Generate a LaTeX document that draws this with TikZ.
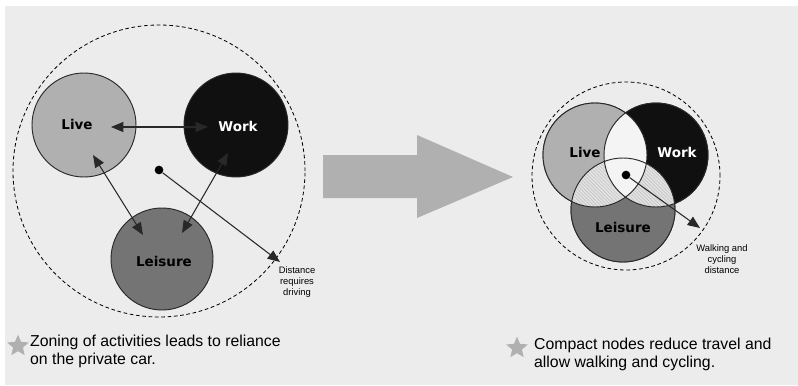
\documentclass[tikz,border=0pt]{standalone}
\usepackage{fontspec}
\setmainfont{Liberation Sans}
\newfontfamily\zonefont{DejaVu Sans}
\usetikzlibrary{arrows.meta,shapes.geometric,calc,patterns}

\definecolor{paper}{RGB}{236,236,236}
\definecolor{livegray}{RGB}{176,176,176}
\definecolor{leisgray}{RGB}{116,116,116}
\definecolor{workblack}{RGB}{16,16,16}
\definecolor{bigarrow}{RGB}{176,176,176}
\definecolor{ink}{RGB}{40,40,40}
\definecolor{hatch}{RGB}{226,226,226}

\begin{document}
\begin{tikzpicture}[x=0.3mm,y=-0.3mm,
  zone/.style={circle, draw=ink, line width=0.8pt, inner sep=0pt, minimum size=31.2mm},
  zonetext/.style={font=\zonefont\bfseries\fontsize{11.5}{12}\selectfont},
  reach/.style={circle, draw=black, line width=0.7pt, dash pattern=on 1.1mm off 0.8mm, inner sep=0pt},
  centre/.style={circle, fill=black, inner sep=0pt, minimum size=2.6mm},
  trip/.style={ink, line width=0.9pt, {Triangle[length=3.7mm,width=3mm]}-{Triangle[length=3.7mm,width=3mm]}},
  span/.style={ink, line width=0.9pt, -{Triangle[length=3.7mm,width=3mm]}},
  note/.style={align=center, font=\fontsize{8}{9.4}\selectfont},
  caption/.style={anchor=west, align=left, font=\fontsize{13.5}{15.4}\selectfont},
  bullet/.style={star, star points=5, star point ratio=2.2, fill=livegray, inner sep=0pt, minimum size=6.8mm}]
  \useasboundingbox (0,0) rectangle (798,385);
  \fill[white] (0,0) rectangle (798,385);
  \fill[paper] (5,6) rectangle (798,385);

  % zoning
  \node[reach, minimum size=87.6mm] (farzone) at (159,171) {};
  \node[zone, fill=livegray] (live) at (84,125) {};
  \node[zone, fill=workblack] (work) at (236,125) {};
  \node[zone, fill=leisgray, minimum size=30.6mm] (leis) at (162,259) {};
  \node[zonetext] (livetxt) at (77,124) {Live};
  \node[zonetext, text=white] (worktxt) at (238,126) {Work};
  \node[zonetext] (leistxt) at (164,261) {Leisure};
  \draw[trip] ($(live.center)+(27,2)$) -- ($(work.center)+(-28,2)$);
  \draw[trip] ($(live.center)+(9,30)$) -- ($(leis.center)+(-19,-24)$);
  \draw[trip] ($(work.center)+(-8,28)$) -- ($(leis.center)+(20,-26)$);
  \node[centre] (farmid) at (159,170) {};
  \coordinate (drive) at (280,262);
  \draw[span] (farmid) -- (drive);
  \node[note] (drivetxt) at (297,282) {Distance\\requires\\driving};

  \fill[bigarrow] (323,155) -- (417,155) -- (417,135) -- (513,177)
    -- (417,218) -- (417,198) -- (323,198) -- cycle;

  % compact
  \node[reach, minimum size=56.4mm] (nearzone) at (626,176) {};
  \node[zone] (clive) at (595,155) {};
  \node[zone] (cwork) at (656,155) {};
  \node[zone] (cleis) at (623,210) {};
  \fill[livegray] (clive.center) circle (15.6mm);
  \fill[workblack] (cwork.center) circle (15.6mm);
  \fill[leisgray] (cleis.center) circle (15.6mm);
  \begin{scope}
    \clip (clive.center) circle (15.6mm);
    \fill[paper!60!white] (cwork.center) circle (15.6mm);
    \fill[hatch] (cleis.center) circle (15.6mm);
    \fill[pattern=north west lines, pattern color=gray!50] (cleis.center) circle (15.6mm);
  \end{scope}
  \begin{scope}
    \clip (cwork.center) circle (15.6mm);
    \fill[hatch] (cleis.center) circle (15.6mm);
    \fill[pattern=north west lines, pattern color=gray!50] (cleis.center) circle (15.6mm);
  \end{scope}
  \begin{scope}
    \clip (clive.center) circle (15.6mm);
    \clip (cwork.center) circle (15.6mm);
    \fill[paper!60!white] (cleis.center) circle (15.6mm);
  \end{scope}
  \draw[ink, line width=0.8pt] (clive.center) circle (15.6mm)
    (cwork.center) circle (15.6mm) (cleis.center) circle (15.6mm);
  \node[zonetext] (clivetxt) at (585,152) {Live};
  \node[zonetext, text=white] (cworktxt) at (677,152) {Work};
  \node[zonetext] (cleistxt) at (623,227) {Leisure};
  \node[centre] (nearmid) at (626,175) {};
  \coordinate (walk) at (700,228);
  \draw[span] (nearmid) -- (walk);
  \node[note] (walktxt) at (722,259) {Walking and\\cycling\\distance};

  % captions
  \node[bullet] (star1) at (18,346) {};
  \node[caption] (cap1) at (26,351) {Zoning of activities leads to reliance\\on the private car.};
  \node[bullet] (star2) at (517,348) {};
  \node[caption] (cap2) at (530,354) {Compact nodes reduce travel and\\allow walking and cycling.};
\end{tikzpicture}
\end{document}
